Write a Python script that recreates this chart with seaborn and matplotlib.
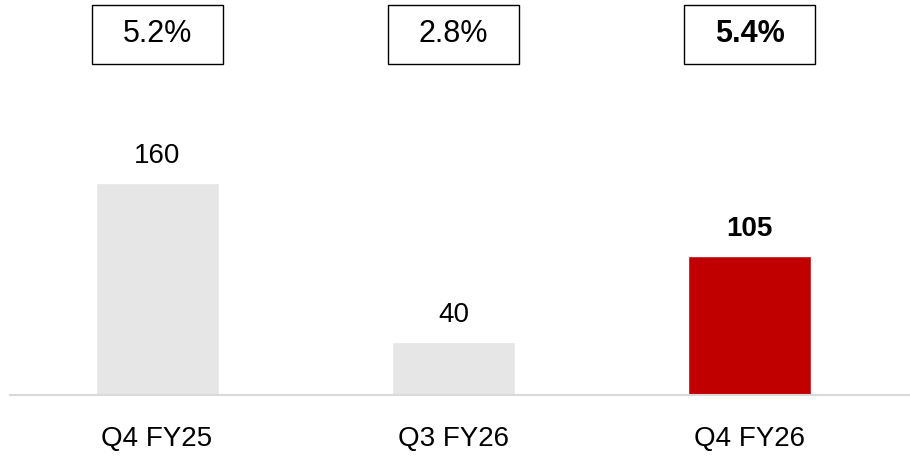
import pandas as pd
import matplotlib.pyplot as plt
import seaborn as sns
from matplotlib.patches import Rectangle

sns.set_style("white")
plt.rcParams['font.family'] = ['Liberation Sans', 'DejaVu Sans']
plt.rcParams['text.color'] = 'black'
plt.rcParams['xtick.color'] = 'black'

# data
quarters = ['Q4 FY25', 'Q3 FY26', 'Q4 FY26']
values = [160, 40, 105]
rates = ['5.2%', '2.8%', '5.4%']
bar_colors = ['#E7E6E6', '#E7E6E6', '#C00000']

df = pd.DataFrame({'quarter': quarters, 'value': values})

fig = plt.figure(figsize=(9.1, 4.62), dpi=100)
ax = fig.add_axes([10 / 910, 67 / 462, 900 / 910, 395 / 462])

sns.barplot(data=df, x='quarter', y='value', hue='quarter',
            palette=bar_colors, width=0.415, legend=False, ax=ax,
            saturation=1)

ax.set_xlim(-0.496, 2.54)
ax.set_ylim(0, 298)

# value labels
for i, v in enumerate(values):
    last = i == len(values) - 1
    ax.annotate(str(v), (i, v), xytext=(0, 10), textcoords='offset points',
                ha='center', va='bottom', fontsize=20,
                fontweight='bold' if last else 'normal')

# boxed rates on top
for i, r in enumerate(rates):
    last = i == len(rates) - 1
    ax.add_patch(Rectangle((i - 0.221, 250), 0.442, 44.5, fill=False,
                           edgecolor='black', linewidth=1.0, clip_on=False))
    ax.text(i, 272, r, ha='center', va='center', fontsize=22,
            fontweight='bold' if last else 'normal')

sns.despine(ax=ax, left=True, top=True, right=True)
ax.spines['bottom'].set_color('#D9D9D9')
ax.spines['bottom'].set_linewidth(1.5)
ax.set_yticks([])
ax.set_xlabel('')
ax.set_ylabel('')
ax.tick_params(axis='x', length=0, pad=22, labelsize=20)

plt.savefig('out.png', dpi=100)
